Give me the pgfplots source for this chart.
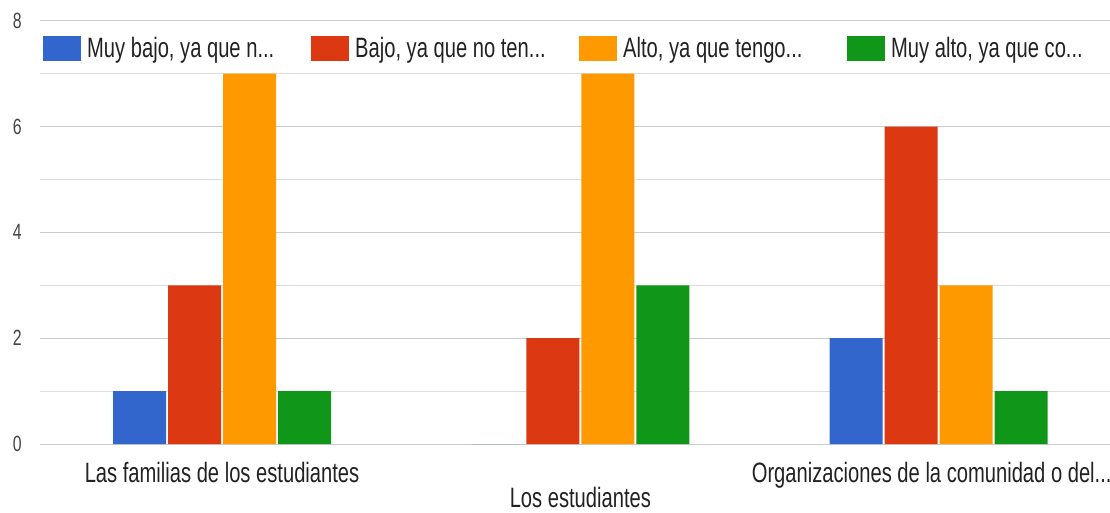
\documentclass[border=0pt]{standalone}
\usepackage{fontspec}
\setmainfont{Liberation Sans}[FakeStretch=0.72]
\usepackage{pgfplots}
\pgfplotsset{compat=1.18}
\definecolor{gblue}{HTML}{3366CC}
\definecolor{gred}{HTML}{DC3912}
\definecolor{gorange}{HTML}{FF9900}
\definecolor{ggreen}{HTML}{109618}
\definecolor{gtext}{HTML}{222222}
\definecolor{gtick}{HTML}{444444}
\pgfplotsset{sqlegend/.style={legend image code/.code={\fill[##1,draw=none] (0pt,-12.5pt) rectangle (38pt,12.5pt); \path (44pt,0pt);}}}
\newcommand{\bigfont}{\fontsize{28}{32}\selectfont}
\newcommand{\smallfont}{\fontsize{22}{26}\selectfont}
\newcommand{\labthree}{Organizaciones de la comunidad o del.{}.{}.\hspace*{14pt}}
\begin{document}
\begin{tikzpicture}
\begin{axis}[
  width=1070pt, height=423.3pt, scale only axis,
  xmin=-0.508, xmax=2.478, ymin=0, ymax=8,
  ybar=2pt, bar width=53pt,
  axis line style={draw=none}, tick style={draw=none},
  ytick={0,2,4,6,8}, yticklabels={0,2,4,6,8},
  minor ytick={1,3,5,7},
  ymajorgrids, yminorgrids,
  major grid style={color=black!20, line width=1pt},
  minor grid style={color=black!13, line width=1pt},
  extra y ticks={0}, extra y tick labels={},
  extra y tick style={grid style={color=black!75, line width=1.8pt}},
  xtick={0,2},
  xticklabels={{Las familias de los estudiantes},{\labthree}},
  extra x ticks={1}, extra x tick labels={{Los estudiantes}},
  extra x tick style={xticklabel style={yshift=-25pt}},
  xticklabel style={font=\bigfont, text=gtext, inner sep=0pt, anchor=north, yshift=-14pt},
  yticklabel style={font=\smallfont, text=gtick, inner sep=0pt, anchor=east, xshift=-18pt},
  legend columns=4,
  legend cell align=left,
  legend style={at={(axis description cs:0,1)}, anchor=north west, xshift=3pt, yshift=-15pt,
    draw=none, fill=none, inner sep=0pt, column sep=0pt,
    nodes={inner sep=0pt, text=gtext, font=\bigfont}},
]
\addplot[fill=gblue, draw=none, sqlegend] coordinates {(0,1) (1,0) (2,2)};
\addlegendentry{\makebox[224pt][l]{Muy bajo, ya que n.{}.{}.}}
\addplot[fill=gred, draw=none, sqlegend] coordinates {(0,3) (1,2) (2,6)};
\addlegendentry{\makebox[224pt][l]{Bajo, ya que no ten.{}.{}.}}
\addplot[fill=gorange, draw=none, sqlegend] coordinates {(0,7) (1,7) (2,3)};
\addlegendentry{\makebox[224pt][l]{Alto, ya que tengo.{}.{}.}}
\addplot[fill=ggreen, draw=none, sqlegend] coordinates {(0,1) (1,3) (2,1)};
\addlegendentry{\makebox[200pt][l]{Muy alto, ya que co.{}.{}.}}
\end{axis}
\pgfresetboundingbox
\path (-40pt,-68pt) rectangle (1070pt,444pt);
\end{tikzpicture}
\end{document}
